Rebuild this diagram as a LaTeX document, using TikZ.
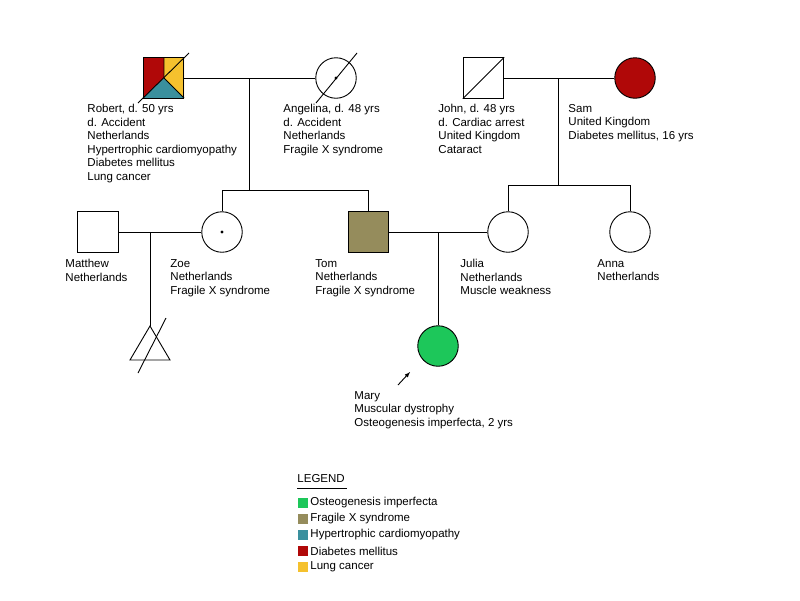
\documentclass[tikz,border=0pt]{standalone}
\usepackage{fontspec}
\setmainfont{Liberation Sans}
\begin{document}
\definecolor{dred}{HTML}{B00808}
\definecolor{lyel}{HTML}{F5C12E}
\definecolor{teal}{HTML}{3A909E}
\definecolor{olive}{HTML}{958C5C}
\definecolor{grn}{HTML}{1DC75A}
\begin{tikzpicture}[x=1pt,y=-1pt,line width=0.9pt,
  lbl/.style={anchor=north west,align=left,inner sep=0,font=\fontsize{11.5}{13.5}\selectfont},
  male/.style={draw,minimum size=40.5pt,inner sep=0},
  fem/.style={draw,circle,minimum size=40.5pt,inner sep=0},
  leg/.style={anchor=west,inner sep=0,font=\fontsize{11.5}{13.5}\selectfont}]
\useasboundingbox (0,0) rectangle (800,600);
% Robert
\fill[dred] (143,58) -- (164,58) -- (164,78) -- (143,98) -- cycle;
\fill[lyel] (164,58) -- (184,58) -- (184,98) -- (164,78) -- cycle;
\fill[teal] (164,78) -- (184,98) -- (143,98) -- cycle;
\draw (164,58) -- (164,78) -- (184,98);
\node[male] (robert) at (163.5,78) {};
\draw (138,103) -- (189,53);
% Angelina
\node[fem] (angelina) at (336,78) {};
\draw (316,103) -- (357,53);
\fill (336,78) circle (1.6);
% John
\node[male] (john) at (483.5,78) {};
\draw (robert) -- (angelina);
\draw (john.south west) -- (john.north east);
% Sam
\node[fem,fill=dred] (sam) at (635,78) {};
\draw (john) -- (sam);
% generation 2
\node[male] (matthew) at (98,232) {};
\node[fem] (zoe) at (222,232) {};
\fill (222,232) circle (1.6);
\node[male,fill=olive] (tom) at (368.5,232) {};
\node[fem] (julia) at (508,232) {};
\node[fem] (anna) at (630,232) {};
\draw (matthew) -- (zoe);
\draw (tom) -- (julia);
\coordinate (m1) at (249,78);
\coordinate (s1) at (249,190);
\draw (m1) -- (s1);
\draw (zoe.north) -- (222,190) -- (368.5,190) -- (tom.north);
\coordinate (m2) at (558,78);
\draw (m2) -- (558,185);
\draw (julia.north) -- (508,185) -- (630,185) -- (anna.north);
% Mary
\node[fem,fill=grn] (mary) at (438,346) {};
\coordinate (m3) at (438,232);
\draw (m3) -- (mary.north);
% triangle
\coordinate (m4) at (150,232);
\coordinate (tri) at (150,326);
\draw (m4) -- (tri);
\draw (tri) -- (170,360) -- (130,360) -- cycle;
\draw (138,373) -- (166,318);
% arrow
\coordinate (a1) at (398,385);
\draw[-latex] (a1) -- (410,372);
% labels
\node[lbl] at (87,104) {Robert, d. 50 yrs\\d. Accident\\Netherlands\\Hypertrophic cardiomyopathy\\Diabetes mellitus\\Lung cancer};
\node[lbl] at (283,104) {Angelina, d. 48 yrs\\d. Accident\\Netherlands\\Fragile X syndrome};
\node[lbl] at (438,104) {John, d. 48 yrs\\d. Cardiac arrest\\United Kingdom\\Cataract};
\node[lbl] at (568,104) {Sam\\United Kingdom\\Diabetes mellitus, 16 yrs};
\node[lbl] at (65,259) {Matthew\\Netherlands};
\node[lbl] at (170,259) {Zoe\\Netherlands\\Fragile X syndrome};
\node[lbl] at (315,259) {Tom\\Netherlands\\Fragile X syndrome};
\node[lbl] at (460,259) {Julia\\Netherlands\\Muscle weakness};
\node[lbl] at (597,259) {Anna\\Netherlands};
\node[lbl] at (354,391) {Mary\\Muscular dystrophy\\Osteogenesis imperfecta, 2 yrs};
% legend
\node[lbl] (lg) at (297,474) {LEGEND};
\draw[line width=0.7pt] (297,488) -- (347,488);
\foreach \c/\t/\y in {grn/Osteogenesis imperfecta/503,olive/Fragile X syndrome/519,teal/Hypertrophic cardiomyopathy/535,dred/Diabetes mellitus/551,lyel/Lung cancer/567}{
  \fill[\c] (298,\y-5) rectangle (308,\y+5);
  \node[leg] at (310,\y) {\t};
}
\end{tikzpicture}
\end{document}
